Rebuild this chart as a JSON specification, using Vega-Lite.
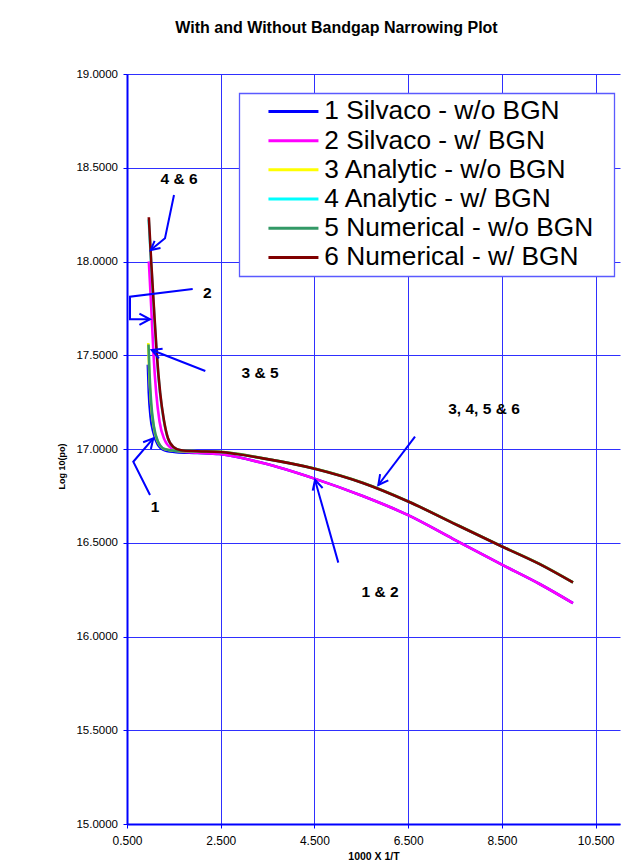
{
  "$schema": "https://vega.github.io/schema/vega-lite/v6.json",
  "width": 493,
  "height": 750,
  "autosize": "none",
  "padding": {"left": 127, "top": 74, "right": 24, "bottom": 39},
  "background": "white",
  "title": {
    "text": "With and Without Bandgap Narrowing Plot",
    "fontSize": 16,
    "fontWeight": "bold",
    "font": "Liberation Sans",
    "color": "black",
    "anchor": "middle",
    "dx": -37,
    "offset": 32
  },
  "datasets": {
    "curves": [
      {"s": "1 Silvaco - w/o BGN", "x": 0.945, "y": 17.45},
      {"s": "1 Silvaco - w/o BGN", "x": 0.966, "y": 17.299},
      {"s": "1 Silvaco - w/o BGN", "x": 1.002, "y": 17.174},
      {"s": "1 Silvaco - w/o BGN", "x": 1.066, "y": 17.085},
      {"s": "1 Silvaco - w/o BGN", "x": 1.158, "y": 17.023},
      {"s": "1 Silvaco - w/o BGN", "x": 1.3, "y": 16.993},
      {"s": "1 Silvaco - w/o BGN", "x": 1.549, "y": 16.983},
      {"s": "1 Silvaco - w/o BGN", "x": 2.0, "y": 16.979},
      {"s": "1 Silvaco - w/o BGN", "x": 2.47, "y": 16.973},
      {"s": "1 Silvaco - w/o BGN", "x": 3.4, "y": 16.925},
      {"s": "1 Silvaco - w/o BGN", "x": 4.5, "y": 16.842},
      {"s": "1 Silvaco - w/o BGN", "x": 5.53, "y": 16.749},
      {"s": "1 Silvaco - w/o BGN", "x": 6.5, "y": 16.647},
      {"s": "1 Silvaco - w/o BGN", "x": 7.454, "y": 16.521},
      {"s": "1 Silvaco - w/o BGN", "x": 8.5, "y": 16.383},
      {"s": "1 Silvaco - w/o BGN", "x": 9.305, "y": 16.28},
      {"s": "1 Silvaco - w/o BGN", "x": 10.016, "y": 16.178},
      {"s": "2 Silvaco - w/ BGN", "x": 0.966, "y": 18.001},
      {"s": "2 Silvaco - w/ BGN", "x": 1.016, "y": 17.761},
      {"s": "2 Silvaco - w/ BGN", "x": 1.066, "y": 17.503},
      {"s": "2 Silvaco - w/ BGN", "x": 1.123, "y": 17.299},
      {"s": "2 Silvaco - w/ BGN", "x": 1.194, "y": 17.147},
      {"s": "2 Silvaco - w/ BGN", "x": 1.3, "y": 17.05},
      {"s": "2 Silvaco - w/ BGN", "x": 1.443, "y": 17.005},
      {"s": "2 Silvaco - w/ BGN", "x": 1.656, "y": 16.987},
      {"s": "2 Silvaco - w/ BGN", "x": 2.0, "y": 16.98},
      {"s": "2 Silvaco - w/ BGN", "x": 2.47, "y": 16.973},
      {"s": "2 Silvaco - w/ BGN", "x": 3.4, "y": 16.925},
      {"s": "2 Silvaco - w/ BGN", "x": 4.5, "y": 16.842},
      {"s": "2 Silvaco - w/ BGN", "x": 5.53, "y": 16.749},
      {"s": "2 Silvaco - w/ BGN", "x": 6.5, "y": 16.647},
      {"s": "2 Silvaco - w/ BGN", "x": 7.454, "y": 16.521},
      {"s": "2 Silvaco - w/ BGN", "x": 8.5, "y": 16.383},
      {"s": "2 Silvaco - w/ BGN", "x": 9.305, "y": 16.28},
      {"s": "2 Silvaco - w/ BGN", "x": 10.016, "y": 16.178},
      {"s": "3 Analytic - w/o BGN", "x": 0.953, "y": 17.565},
      {"s": "3 Analytic - w/o BGN", "x": 0.975, "y": 17.406},
      {"s": "3 Analytic - w/o BGN", "x": 1.011, "y": 17.246},
      {"s": "3 Analytic - w/o BGN", "x": 1.068, "y": 17.121},
      {"s": "3 Analytic - w/o BGN", "x": 1.153, "y": 17.041},
      {"s": "3 Analytic - w/o BGN", "x": 1.295, "y": 17.0},
      {"s": "3 Analytic - w/o BGN", "x": 1.545, "y": 16.99},
      {"s": "3 Analytic - w/o BGN", "x": 2.0, "y": 16.988},
      {"s": "3 Analytic - w/o BGN", "x": 2.47, "y": 16.985},
      {"s": "3 Analytic - w/o BGN", "x": 3.4, "y": 16.951},
      {"s": "3 Analytic - w/o BGN", "x": 4.5, "y": 16.896},
      {"s": "3 Analytic - w/o BGN", "x": 5.53, "y": 16.82},
      {"s": "3 Analytic - w/o BGN", "x": 6.5, "y": 16.721},
      {"s": "3 Analytic - w/o BGN", "x": 7.454, "y": 16.606},
      {"s": "3 Analytic - w/o BGN", "x": 8.5, "y": 16.481},
      {"s": "3 Analytic - w/o BGN", "x": 9.305, "y": 16.387},
      {"s": "3 Analytic - w/o BGN", "x": 10.016, "y": 16.289},
      {"s": "4 Analytic - w/ BGN", "x": 0.963, "y": 18.225},
      {"s": "4 Analytic - w/ BGN", "x": 1.013, "y": 18.001},
      {"s": "4 Analytic - w/ BGN", "x": 1.07, "y": 17.761},
      {"s": "4 Analytic - w/ BGN", "x": 1.134, "y": 17.503},
      {"s": "4 Analytic - w/ BGN", "x": 1.205, "y": 17.299},
      {"s": "4 Analytic - w/ BGN", "x": 1.283, "y": 17.156},
      {"s": "4 Analytic - w/ BGN", "x": 1.369, "y": 17.059},
      {"s": "4 Analytic - w/ BGN", "x": 1.487, "y": 17.011},
      {"s": "4 Analytic - w/ BGN", "x": 1.653, "y": 16.993},
      {"s": "4 Analytic - w/ BGN", "x": 2.0, "y": 16.988},
      {"s": "4 Analytic - w/ BGN", "x": 2.47, "y": 16.984},
      {"s": "4 Analytic - w/ BGN", "x": 3.4, "y": 16.95},
      {"s": "4 Analytic - w/ BGN", "x": 4.5, "y": 16.895},
      {"s": "4 Analytic - w/ BGN", "x": 5.53, "y": 16.819},
      {"s": "4 Analytic - w/ BGN", "x": 6.5, "y": 16.72},
      {"s": "4 Analytic - w/ BGN", "x": 7.454, "y": 16.605},
      {"s": "4 Analytic - w/ BGN", "x": 8.5, "y": 16.48},
      {"s": "4 Analytic - w/ BGN", "x": 9.305, "y": 16.386},
      {"s": "4 Analytic - w/ BGN", "x": 10.016, "y": 16.288},
      {"s": "5 Numerical - w/o BGN", "x": 0.959, "y": 17.557},
      {"s": "5 Numerical - w/o BGN", "x": 0.98, "y": 17.406},
      {"s": "5 Numerical - w/o BGN", "x": 1.016, "y": 17.246},
      {"s": "5 Numerical - w/o BGN", "x": 1.073, "y": 17.121},
      {"s": "5 Numerical - w/o BGN", "x": 1.158, "y": 17.041},
      {"s": "5 Numerical - w/o BGN", "x": 1.3, "y": 17.0},
      {"s": "5 Numerical - w/o BGN", "x": 1.549, "y": 16.99},
      {"s": "5 Numerical - w/o BGN", "x": 2.0, "y": 16.988},
      {"s": "5 Numerical - w/o BGN", "x": 2.47, "y": 16.985},
      {"s": "5 Numerical - w/o BGN", "x": 3.4, "y": 16.951},
      {"s": "5 Numerical - w/o BGN", "x": 4.5, "y": 16.896},
      {"s": "5 Numerical - w/o BGN", "x": 5.53, "y": 16.82},
      {"s": "5 Numerical - w/o BGN", "x": 6.5, "y": 16.721},
      {"s": "5 Numerical - w/o BGN", "x": 7.454, "y": 16.606},
      {"s": "5 Numerical - w/o BGN", "x": 8.5, "y": 16.481},
      {"s": "5 Numerical - w/o BGN", "x": 9.305, "y": 16.387},
      {"s": "5 Numerical - w/o BGN", "x": 10.016, "y": 16.289},
      {"s": "6 Numerical - w/ BGN", "x": 0.966, "y": 18.236},
      {"s": "6 Numerical - w/ BGN", "x": 1.016, "y": 18.001},
      {"s": "6 Numerical - w/ BGN", "x": 1.073, "y": 17.761},
      {"s": "6 Numerical - w/ BGN", "x": 1.137, "y": 17.503},
      {"s": "6 Numerical - w/ BGN", "x": 1.208, "y": 17.299},
      {"s": "6 Numerical - w/ BGN", "x": 1.286, "y": 17.156},
      {"s": "6 Numerical - w/ BGN", "x": 1.372, "y": 17.059},
      {"s": "6 Numerical - w/ BGN", "x": 1.49, "y": 17.011},
      {"s": "6 Numerical - w/ BGN", "x": 1.656, "y": 16.993},
      {"s": "6 Numerical - w/ BGN", "x": 2.0, "y": 16.988},
      {"s": "6 Numerical - w/ BGN", "x": 2.47, "y": 16.984},
      {"s": "6 Numerical - w/ BGN", "x": 3.4, "y": 16.95},
      {"s": "6 Numerical - w/ BGN", "x": 4.5, "y": 16.895},
      {"s": "6 Numerical - w/ BGN", "x": 5.53, "y": 16.819},
      {"s": "6 Numerical - w/ BGN", "x": 6.5, "y": 16.72},
      {"s": "6 Numerical - w/ BGN", "x": 7.454, "y": 16.605},
      {"s": "6 Numerical - w/ BGN", "x": 8.5, "y": 16.48},
      {"s": "6 Numerical - w/ BGN", "x": 9.305, "y": 16.386},
      {"s": "6 Numerical - w/ BGN", "x": 10.016, "y": 16.288}
    ],
    "arrows": [
      {"id": "a1", "o": 1, "x": 1.503, "y": 18.355},
      {"id": "a1", "o": 2, "x": 1.311, "y": 18.124},
      {"id": "a1", "o": 3, "x": 1.006, "y": 18.061},
      {"id": "h1", "o": 1, "x": 1.215, "y": 18.072},
      {"id": "h1", "o": 2, "x": 1.006, "y": 18.061},
      {"id": "h1", "o": 3, "x": 1.089, "y": 18.11},
      {"id": "a2", "o": 1, "x": 1.902, "y": 17.853},
      {"id": "a2", "o": 2, "x": 0.564, "y": 17.812},
      {"id": "a2", "o": 3, "x": 0.564, "y": 17.692},
      {"id": "a2", "o": 4, "x": 0.991, "y": 17.692},
      {"id": "h2", "o": 1, "x": 0.765, "y": 17.722},
      {"id": "h2", "o": 2, "x": 0.991, "y": 17.692},
      {"id": "h2", "o": 3, "x": 0.765, "y": 17.662},
      {"id": "a3", "o": 1, "x": 2.171, "y": 17.416},
      {"id": "a3", "o": 2, "x": 1.027, "y": 17.528},
      {"id": "h3", "o": 1, "x": 1.181, "y": 17.483},
      {"id": "h3", "o": 2, "x": 1.027, "y": 17.528},
      {"id": "h3", "o": 3, "x": 1.26, "y": 17.535},
      {"id": "a4", "o": 1, "x": 0.991, "y": 16.755},
      {"id": "a4", "o": 2, "x": 0.634, "y": 16.932},
      {"id": "a4", "o": 3, "x": 1.061, "y": 17.057},
      {"id": "h4", "o": 1, "x": 0.844, "y": 17.036},
      {"id": "h4", "o": 2, "x": 1.061, "y": 17.057},
      {"id": "h4", "o": 3, "x": 1.01, "y": 17.0},
      {"id": "a5", "o": 1, "x": 5.009, "y": 16.394},
      {"id": "a5", "o": 2, "x": 4.512, "y": 16.835},
      {"id": "h5", "o": 1, "x": 4.463, "y": 16.778},
      {"id": "h5", "o": 2, "x": 4.512, "y": 16.835},
      {"id": "h5", "o": 3, "x": 4.674, "y": 16.792},
      {"id": "a6", "o": 1, "x": 6.646, "y": 17.066},
      {"id": "a6", "o": 2, "x": 5.863, "y": 16.808},
      {"id": "h6", "o": 1, "x": 6.076, "y": 16.833},
      {"id": "h6", "o": 2, "x": 5.863, "y": 16.808},
      {"id": "h6", "o": 3, "x": 5.901, "y": 16.866}
    ],
    "labels": [
      {"t": "4 & 6", "x": 1.61, "y": 18.44},
      {"t": "2", "x": 2.214, "y": 17.834},
      {"t": "3 & 5", "x": 3.338, "y": 17.405},
      {"t": "1", "x": 1.098, "y": 16.689},
      {"t": "3, 4, 5 & 6", "x": 8.118, "y": 17.213},
      {"t": "1 & 2", "x": 5.899, "y": 16.239}
    ]
  },
  "layer": [
    {
      "data": {"name": "curves"},
      "mark": {"type": "line", "strokeWidth": 2.6, "interpolate": "monotone"},
      "encoding": {
        "x": {"field": "x", "type": "quantitative", "scale": {"domain": [0.5, 11.02], "nice": false, "zero": false},
          "axis": {"values": [0.5, 2.5, 4.5, 6.5, 8.5, 10.5], "format": ".3f", "title": "1000 X 1/T", "labelPadding": 7, "labelFontSize": 12, "titleFontSize": 10.5, "titleY": 35, "titleBaseline": "alphabetic"}},
        "y": {"field": "y", "type": "quantitative", "scale": {"domain": [15, 19], "nice": false, "zero": false},
          "axis": {"values": [15, 15.5, 16, 16.5, 17, 17.5, 18, 18.5, 19], "format": ".4f", "title": "Log 10(po)", "labelPadding": 5.5, "labelFontSize": 11.5, "titleFontSize": 9, "titleX": -66, "titleY": 392, "titleAngle": 270, "titleBaseline": "middle", "titleAlign": "center"}},
        "color": {
          "field": "s", "type": "nominal",
          "scale": {
            "domain": ["1 Silvaco - w/o BGN", "2 Silvaco - w/ BGN", "3 Analytic - w/o BGN", "4 Analytic - w/ BGN", "5 Numerical - w/o BGN", "6 Numerical - w/ BGN"],
            "range": ["#0000ff", "#ff00ff", "#ffff00", "#00ffff", "#339966", "#800000"]
          },
          "legend": {
            "title": null,
            "orient": "none",
            "legendX": 112.3,
            "legendY": 19.3,
            "fillColor": "white",
            "strokeColor": "#5a5aff",
            "padding": 5,
            "symbolType": "M0.957,0H5.304M30,0",
            "symbolSize": 529,
            "symbolStrokeWidth": 3,
            "labelFontSize": 26.3,
            "labelFont": "Liberation Sans",
            "labelColor": "black",
            "labelOffset": 53.7,
            "labelLimit": 500,
            "rowPadding": 2.2,
            "encode": {"legend": {"update": {"strokeWidth": {"value": 1.3}}}}
          }
        }
      }
    },
    {
      "data": {"name": "arrows"},
      "mark": {"type": "line", "color": "#0000ff", "strokeWidth": 2},
      "encoding": {
        "x": {"field": "x", "type": "quantitative", "scale": {"domain": [0.5, 11.02], "nice": false, "zero": false}},
        "y": {"field": "y", "type": "quantitative", "scale": {"domain": [15, 19], "nice": false, "zero": false}},
        "detail": {"field": "id"},
        "order": {"field": "o"}
      }
    },
    {
      "data": {"name": "labels"},
      "mark": {"type": "text", "fontWeight": "bold", "fontSize": 15.5, "font": "Liberation Sans", "color": "black", "align": "center", "baseline": "middle"},
      "encoding": {
        "x": {"field": "x", "type": "quantitative", "scale": {"domain": [0.5, 11.02], "nice": false, "zero": false}},
        "y": {"field": "y", "type": "quantitative", "scale": {"domain": [15, 19], "nice": false, "zero": false}},
        "text": {"field": "t"}
      }
    },
    {
      "mark": {"type": "rule", "color": "#808080", "strokeWidth": 2.6},
      "encoding": {"y": {"datum": 19}}
    },
    {
      "mark": {"type": "rule", "color": "#808080", "strokeWidth": 2.6},
      "encoding": {"x": {"datum": 11.02}}
    }
  ],
  "config": {
    "view": {"stroke": null},
    "font": "Liberation Sans",
    "axis": {
      "grid": true,
      "gridColor": "#2f2fff",
      "gridWidth": 1,
      "gridOpacity": 1,
      "domainColor": "#0000ff",
      "domainWidth": 2,
      "tickColor": "#0000ff",
      "tickSize": 4,
      "tickWidth": 1,
      "labelFont": "Liberation Sans",
      "labelColor": "black",
      "labelFlush": false,
      "labelOverlap": false,
      "titleFont": "Liberation Sans",
      "titleFontWeight": "bold",
      "titleColor": "black"
    }
  }
}
